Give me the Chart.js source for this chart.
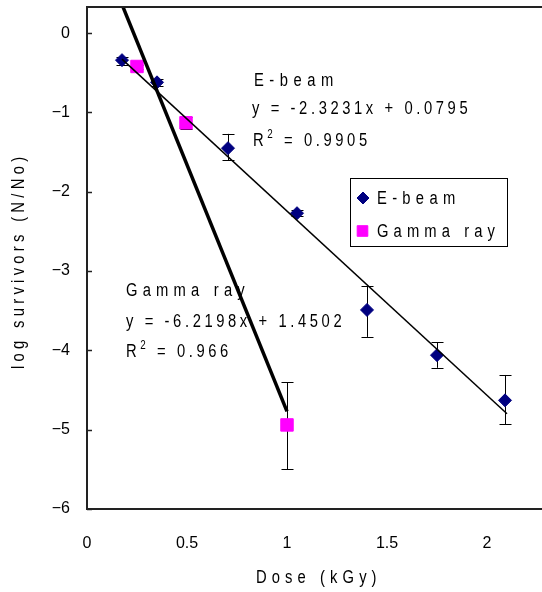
<!DOCTYPE html>
<html>
<head>
<meta charset="utf-8">
<script src="https://cdn.jsdelivr.net/npm/chart.js@4.4.0/dist/chart.umd.min.js"></script>
<style>
html, body { margin: 0; padding: 0; background: #fff; overflow: hidden; }
</style>
</head>
<body>
<canvas id="grafico" width="542" height="592"></canvas>
<script>
// dose (kGy) vs log survivors, with error bar ends
const doseEbeam = [0.175, 0.35, 0.705, 1.05, 1.4, 1.75, 2.09];
const logEbeam = [-0.34, -0.62, -1.45, -2.27, -3.49, -4.06, -4.63];
const errEbeamLow = [-0.40, -0.66, -1.60, -2.31, -3.83, -4.22, -4.93];
const errEbeamHigh = [-0.30, -0.58, -1.27, -2.23, -3.19, -3.90, -4.31];

const doseGamma = [0.25, 0.495, 1.0];
const logGamma = [-0.42, -1.13, -4.94];
const errGammaLow = [-0.45, -1.21, -5.50];
const errGammaHigh = [-0.40, -1.06, -4.40];

// linear fits
const ebeamSlope = -2.3231, ebeamIntercept = 0.0795, ebeamR2 = 0.9905;
const gammaSlope = -6.2198, gammaIntercept = 1.4502, gammaR2 = 0.966;
const ebeamFitRange = [0.175, 2.1];
const gammaFitRange = [0.15, 1.0];

const xTicks = [0, 0.5, 1, 1.5, 2];
const yTicks = [0, -1, -2, -3, -4, -5, -6];

const FONTE = '"Liberation Sans", Arial, sans-serif';
const COR_EBEAM = '#000080';
const COR_GAMMA = '#ff00ff';
const ESTREITO = 0.82; // horizontal squeeze for the narrow lettering

function pontos(xs, ys) {
    return xs.map((x, i) => ({ x: x, y: ys[i] }));
}

function retaAjuste(range, a, b) {
    return range.map(x => ({ x: x, y: a * x + b }));
}

// text drawn char by char, squeezed and with opened spacing
function textoEspacado(ctx, partes, x, y, espaco) {
    let cx = x;
    partes.forEach(p => {
        const tam = p.sup ? 12 : 18;
        ctx.font = tam + 'px ' + FONTE;
        const dy = p.sup ? -6 : 0;
        for (const ch of p.t) {
            ctx.save();
            ctx.translate(cx, y + dy);
            ctx.scale(ESTREITO, 1);
            ctx.fillText(ch, 0, 0);
            ctx.restore();
            cx += ctx.measureText(ch).width * ESTREITO + espaco;
        }
    });
    return cx;
}

const rotulos = [
    { partes: [{ t: 'E-beam' }], x: 254, y: 81, esp: 5.5 },
    { partes: [{ t: 'y = ' + ebeamSlope + 'x + ' + ebeamIntercept }], x: 252, y: 109, esp: 3.6 },
    { partes: [{ t: 'R' }, { t: '2', sup: true }, { t: ' = ' + ebeamR2 }], x: 253, y: 141, esp: 3.6 },
    { partes: [{ t: 'Gamma ray' }], x: 126, y: 291, esp: 5.2 },
    { partes: [{ t: 'y = ' + gammaSlope + 'x + ' + gammaIntercept }], x: 126, y: 322, esp: 3.6 },
    { partes: [{ t: 'R' }, { t: '2', sup: true }, { t: ' = ' + gammaR2 }], x: 126, y: 352, esp: 3.6 }
];

const barrasErro = {
    id: 'barrasErro',
    beforeDatasetsDraw(chart) {
        const ctx = chart.ctx;
        const sx = chart.scales.x, sy = chart.scales.y;
        ctx.save();
        ctx.strokeStyle = '#000';
        ctx.lineWidth = 1;
        chart.data.datasets.forEach(ds => {
            if (!ds.errLow) return;
            ds.data.forEach((p, i) => {
                const px = Math.round(sx.getPixelForValue(p.x)) + 0.5;
                const y1 = sy.getPixelForValue(ds.errLow[i]);
                const y2 = sy.getPixelForValue(ds.errHigh[i]);
                ctx.beginPath();
                ctx.moveTo(px, y1); ctx.lineTo(px, y2);
                ctx.moveTo(px - 6, Math.round(y1) + 0.5); ctx.lineTo(px + 6, Math.round(y1) + 0.5);
                ctx.moveTo(px - 6, Math.round(y2) + 0.5); ctx.lineTo(px + 6, Math.round(y2) + 0.5);
                ctx.stroke();
            });
        });
        ctx.restore();
    }
};

const molduraTextos = {
    id: 'molduraTextos',
    afterDraw(chart) {
        const ctx = chart.ctx;
        const area = chart.chartArea;
        const sy = chart.scales.y;
        ctx.save();
        // axis lines: left, top, bottom
        ctx.strokeStyle = '#222';
        ctx.lineWidth = 2;
        ctx.beginPath();
        ctx.moveTo(area.right, area.top); ctx.lineTo(area.left, area.top);
        ctx.lineTo(area.left, area.bottom); ctx.lineTo(area.right, area.bottom);
        ctx.stroke();
        // inner tick marks on the y axis
        ctx.lineWidth = 1.5;
        yTicks.forEach(v => {
            const py = Math.round(sy.getPixelForValue(v)) + 0.5;
            ctx.beginPath();
            ctx.moveTo(area.left, py); ctx.lineTo(area.left + 5, py);
            ctx.stroke();
        });

        ctx.fillStyle = '#000';
        ctx.textBaseline = 'middle';
        ctx.textAlign = 'left';
        rotulos.forEach(r => textoEspacado(ctx, r.partes, r.x, r.y, r.esp));

        // axis titles
        textoEspacado(ctx, [{ t: 'Dose (kGy)' }], 256, 578, 5.1);
        ctx.save();
        ctx.translate(19, 369);
        ctx.rotate(-Math.PI / 2);
        textoEspacado(ctx, [{ t: 'log survivors (N/No)' }], 0, 0, 4.3);
        ctx.restore();

        // legend
        ctx.lineWidth = 1;
        ctx.strokeStyle = '#000';
        ctx.strokeRect(350.5, 178.5, 157, 68);
        const dsE = chart.data.datasets[2], dsG = chart.data.datasets[3];
        ctx.fillStyle = COR_EBEAM;
        ctx.strokeStyle = COR_EBEAM;
        Chart.helpers.drawPoint(ctx, { pointStyle: dsE.pointStyle, radius: 6, borderWidth: 1 }, 363, 198);
        ctx.fillStyle = COR_GAMMA;
        ctx.strokeStyle = COR_GAMMA;
        Chart.helpers.drawPoint(ctx, { pointStyle: dsG.pointStyle, radius: 7.5, borderWidth: 1 }, 362.5, 231);
        ctx.fillStyle = '#000';
        textoEspacado(ctx, [{ t: dsE.label }], 377, 199, 5.3);
        textoEspacado(ctx, [{ t: dsG.label }], 377, 232, 5.1);
        ctx.restore();
    }
};

// no edge padding for tick labels, the plot runs to the canvas edges
function semMargem(s) {
    s.paddingTop = 0;
    s.paddingBottom = 0;
    s.paddingLeft = 0;
    s.paddingRight = 0;
}

const ctx = document.getElementById('grafico').getContext('2d');
const grafico = new Chart(ctx, {
    type: 'scatter',
    data: {
        datasets: [
            {
                label: 'fit Gamma ray',
                data: retaAjuste(gammaFitRange, gammaSlope, gammaIntercept),
                showLine: true,
                borderColor: '#000',
                borderWidth: 3.5,
                pointRadius: 0,
                clip: 0
            },
            {
                label: 'fit E-beam',
                data: retaAjuste(ebeamFitRange, ebeamSlope, ebeamIntercept),
                showLine: true,
                borderColor: '#000',
                borderWidth: 1.5,
                pointRadius: 0,
                clip: 0
            },
            {
                label: 'E-beam',
                data: pontos(doseEbeam, logEbeam),
                errLow: errEbeamLow,
                errHigh: errEbeamHigh,
                pointStyle: 'rectRot',
                pointRadius: 6.5,
                backgroundColor: COR_EBEAM,
                borderColor: COR_EBEAM,
                borderWidth: 1
            },
            {
                label: 'Gamma ray',
                data: pontos(doseGamma, logGamma),
                errLow: errGammaLow,
                errHigh: errGammaHigh,
                pointStyle: 'rect',
                pointRadius: 8.8,
                backgroundColor: COR_GAMMA,
                borderColor: COR_GAMMA,
                borderWidth: 1
            }
        ]
    },
    options: {
        responsive: false,
        animation: false,
        layout: { autoPadding: false, padding: { top: 7, right: 0, left: 0, bottom: 0 } },
        plugins: {
            legend: { display: false },
            tooltip: { enabled: false }
        },
        scales: {
            x: {
                type: 'linear',
                min: 0,
                max: 2.275,
                grid: { display: false, drawTicks: false },
                border: { display: false },
                afterBuildTicks: s => { s.ticks = xTicks.map(v => ({ value: v })); },
                afterFit: s => { s.height = 83; semMargem(s); },
                ticks: {
                    padding: 25,
                    color: '#000',
                    font: { family: FONTE, size: 16 },
                    maxRotation: 0,
                    callback: v => String(v)
                }
            },
            y: {
                type: 'linear',
                min: -6,
                max: 0.33,
                grid: { display: false, drawTicks: false },
                border: { display: false },
                afterBuildTicks: s => { s.ticks = yTicks.map(v => ({ value: v })); },
                afterFit: s => { s.width = 87; semMargem(s); },
                ticks: {
                    padding: 17,
                    color: '#000',
                    font: { family: FONTE, size: 16 },
                    callback: v => v < 0 ? '\u2212' + Math.abs(v) : String(v)
                }
            }
        }
    },
    plugins: [barrasErro, molduraTextos]
});
</script>
</body>
</html>
